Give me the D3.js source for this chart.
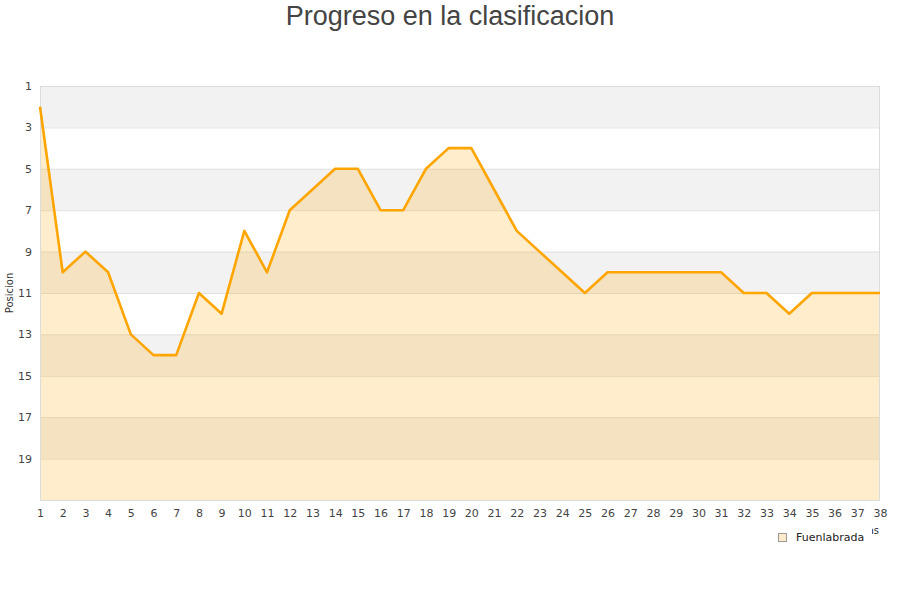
<!DOCTYPE html>
<html><head><meta charset="utf-8">
<script src="https://cdn.jsdelivr.net/npm/d3@7"></script>
<style>body{margin:0;background:#fff}svg{display:block}</style>
</head><body>
<svg id="c" width="900" height="600"></svg>
<script>
const title = "Progreso en la clasificacion";
const seriesName = "Fuenlabrada";
const jornadas = d3.range(1, 39);
const posiciones = [2,10,9,10,13,14,14,11,12,8,10,7,6,5,5,7,7,5,4,4,6,8,9,10,11,10,10,10,10,10,10,11,11,12,11,11,11,11];
const yTicks = [1,3,5,7,9,11,13,15,17,19];

const svg = d3.select("#c");
const m = {l:40, r:880, t:86, b:500};
const x = d3.scaleLinear().domain([1,38]).range([m.l, m.r]);
const y = d3.scaleLinear().domain([1,21]).range([m.t, m.b]);

// bands
const bands = d3.range(1, 21, 2);
svg.append("g").selectAll("rect").data(bands).join("rect")
  .attr("x", m.l).attr("width", m.r - m.l)
  .attr("y", d => y(d)).attr("height", d => y(d+2) - y(d))
  .attr("fill", (d,i) => i % 2 === 0 ? "#f2f2f2" : "#ffffff");

// grid lines
svg.append("g").selectAll("line").data(yTicks.slice(1)).join("line")
  .attr("x1", m.l).attr("x2", m.r)
  .attr("y1", d => y(d)+0.5).attr("y2", d => y(d)+0.5)
  .attr("stroke", "#e0e0e0").attr("stroke-width", 1);

const data = jornadas.map((j,i) => ({j, p: posiciones[i]}));

svg.append("path").datum(data)
  .attr("d", d3.area().x(d => x(d.j)).y0(y(21)).y1(d => y(d.p)))
  .attr("fill", "rgba(255,165,0,0.2)");

// frame
svg.append("rect").attr("x", m.l+0.5).attr("y", m.t+0.5)
  .attr("width", m.r - m.l - 1).attr("height", m.b - m.t)
  .attr("fill", "none").attr("stroke", "#dcdcdc");

svg.append("path").datum(data)
  .attr("d", d3.line().x(d => x(d.j)).y(d => y(d.p)))
  .attr("fill", "none").attr("stroke", "#ffa500").attr("stroke-width", 2.6)
  .attr("stroke-linejoin", "round");

// y axis labels
const yAxis = d3.axisLeft(y).tickValues(yTicks).tickSize(0).tickPadding(0);
const gy = svg.append("g").attr("transform", `translate(${m.l - 8},0)`).call(yAxis);
gy.select(".domain").remove();
gy.selectAll("text").attr("font-family", "DejaVu Sans").attr("font-size", 11).attr("fill", "#444");

// x axis labels
const xAxis = d3.axisBottom(x).tickValues(jornadas).tickSize(0).tickPadding(0).tickFormat(d3.format("d"));
const gx = svg.append("g").attr("transform", `translate(0,${m.b + 9})`).call(xAxis);
gx.select(".domain").remove();
gx.selectAll("text").attr("font-family", "DejaVu Sans").attr("font-size", 11).attr("fill", "#444");

// y label
svg.append("text").attr("transform", "translate(13,293) rotate(-90)")
  .attr("text-anchor", "middle").attr("font-family", "DejaVu Sans").attr("font-size", 10)
  .attr("fill", "#333").text("Posicion");

// x title (mostly hidden behind the legend box)
svg.append("text").attr("x", 879).attr("y", 534).attr("text-anchor", "end")
  .attr("font-family", "DejaVu Sans").attr("font-size", 10).attr("fill", "#333").text("Jornadas");
svg.append("rect").attr("x", 768).attr("y", 526).attr("width", 104).attr("height", 24).attr("fill", "#fff");

// legend
svg.append("rect").attr("x", 778.5).attr("y", 533.5).attr("width", 8).attr("height", 8)
  .attr("fill", "#ffebcc").attr("stroke", "#999");
svg.append("text").attr("x", 796).attr("y", 541).attr("font-family", "DejaVu Sans")
  .attr("font-size", 11).attr("fill", "#222").text(seriesName);

// title
svg.append("text").attr("x", 450).attr("y", 25).attr("text-anchor", "middle")
  .attr("font-family", "Liberation Sans").attr("font-size", 27).attr("fill", "#444").text(title);
</script>
</body></html>
